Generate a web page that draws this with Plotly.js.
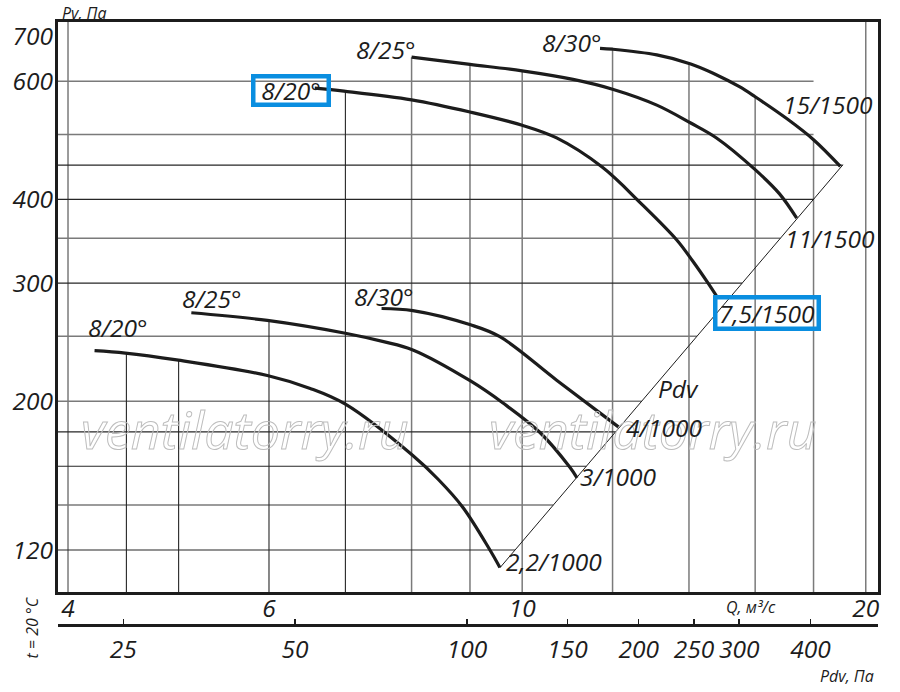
<!DOCTYPE html>
<html><head><meta charset="utf-8">
<script src="https://cdn.plot.ly/plotly-3.0.1.min.js"></script>
<style>html,body{margin:0;padding:0;background:#fff}#chart{width:900px;height:692px}</style>
</head><body><div id="chart"></div>
<script>
// ---- data (Q in m3/s, Pv in Pa) ----
const Q_20_1500 = [6.58, 6.98, 8.0, 9.0, 10.0, 10.72, 11.75, 12.7, 13.66, 14.1, 14.57, 14.84];
const PV_20_1500 = [586, 580, 563, 540, 516, 494, 447, 395, 348, 324, 299, 285];
const Q_25_1500 = [8.0, 9.0, 10.0, 11.08, 12.0, 13.12, 14.05, 14.8, 16.0, 16.8, 17.4];
const PV_25_1500 = [652, 636, 622, 604, 584, 553, 520, 494, 443, 408, 375];
const Q_30_1500 = [11.7, 12.0, 13.12, 14.05, 14.7, 15.5, 16.0, 17.05, 18.0, 19.0];
const PV_30_1500 = [672, 670, 657, 637, 617, 589, 569, 528, 491, 448];
const Q_20_1000 = [4.22, 4.49, 4.98, 5.98, 6.52, 7.0, 8.02, 8.44, 8.87, 9.37, 9.56];
const PV_20_1000 = [238, 236, 230.5, 218.5, 209, 198, 166, 153, 139, 120, 113];
const Q_25_1000 = [5.13, 5.98, 7.0, 7.56, 8.02, 9.01, 9.62, 10.36, 11.01, 11.17];
const PV_25_1000 = [271, 264, 252.6, 245.4, 238.5, 214.4, 198.8, 179.8, 159.4, 153.7];
const Q_30_1000 = [7.53, 8.02, 9.01, 9.56, 10.72, 12.15];
const PV_30_1000 = [275, 273, 260, 249.6, 215, 183];

const startLabels = ['8/20°', '8/25°', '8/30°', '8/20°', '8/25°', '8/30°'];
const endLabels = ['7,5/1500', '11/1500', '15/1500', '2,2/1000', '3/1000', '4/1000'];

const qTicks = [4, 6, 10, 20];
const pvTicks = [120, 200, 300, 400, 600, 700];
const pdvTicks = [25, 50, 100, 150, 200, 250, 300, 400];
const qGrid = [4, 4.5, 5, 6, 7, 8, 9, 10, 12, 14, 16, 18, 20];
const pvGrid = [120, 140, 160, 180, 200, 250, 300, 350, 400, 450, 500, 600];
const qGridDark = [4.5, 5, 6, 7];
const pvGridDark = [120, 160, 180, 300, 400, 450];

const pdvLineCoef = 1.235;     // Pdv = k*Q^2 (line on chart)
const pdvAxisCoef = 1.25;      // Pdv scale under the chart
const pdvLineQ = [9.56, 19.1];
const pdvLabelQ = 13;
const qRange = [3.92, 20.5];
const pvRange = [103.7, 735.6];

// ---- helpers ----
const L = Math.log10;
const curves = [
  {q: Q_20_1500, p: PV_20_1500}, {q: Q_25_1500, p: PV_25_1500}, {q: Q_30_1500, p: PV_30_1500},
  {q: Q_20_1000, p: PV_20_1000}, {q: Q_25_1000, p: PV_25_1000}, {q: Q_30_1000, p: PV_30_1000}
];
function interp(c, q) {
  if (q < c.q[0] || q > c.q[c.q.length - 1]) return null;
  for (let i = 0; i < c.q.length - 1; i++) {
    if (q >= c.q[i] && q <= c.q[i + 1]) {
      const t = (L(q) - L(c.q[i])) / (L(c.q[i + 1]) - L(c.q[i]));
      return Math.pow(10, L(c.p[i]) + t * (L(c.p[i + 1]) - L(c.p[i])));
    }
  }
  return null;
}

// gridlines clipped to the curve envelope and the Pdv line
const gDark = {x: [], y: []}, gLight = {x: [], y: []};
qGrid.forEach(q => {
  let top = null;
  curves.forEach(c => { const v = interp(c, q); if (v !== null && (top === null || v > top)) top = v; });
  const g = qGridDark.includes(q) ? gDark : gLight;
  g.x.push(q, q, null); g.y.push(pvRange[0], top === null ? pvRange[1] : top, null);
});
const pLo = pdvLineCoef * pdvLineQ[0] ** 2, pHi = pdvLineCoef * pdvLineQ[1] ** 2;
pvGrid.forEach(p => {
  const xe = (p >= pLo && p <= pHi) ? Math.sqrt(p / pdvLineCoef) : qGrid[qGrid.length - 2];
  const g = pvGridDark.includes(p) ? gDark : gLight;
  g.x.push(qRange[0], xe, null); g.y.push(p, p, null);
});

const ink = '#1c1c1c';
const FF = '"Open Sans", "Noto Sans", "DejaVu Sans", sans-serif';
const traces = [
  {x: gLight.x, y: gLight.y, mode: 'lines', line: {color: '#7a7a7a', width: 1.5}, hoverinfo: 'skip'},
  {x: gDark.x, y: gDark.y, mode: 'lines', line: {color: '#262626', width: 1.1}, hoverinfo: 'skip'},
  {x: pdvLineQ, y: pdvLineQ.map(q => pdvLineCoef * q * q), mode: 'lines', line: {color: ink, width: 1}, hoverinfo: 'skip'}
];
curves.forEach(c => traces.push({x: c.q, y: c.p, mode: 'lines', line: {color: ink, width: 3.2, shape: 'spline', smoothing: 1}, hoverinfo: 'skip'}));
traces.push({x: pdvTicks, y: pdvTicks.map(() => pvRange[0]), xaxis: 'x2', yaxis: 'y', mode: 'markers', marker: {size: 1, opacity: 0}, hoverinfo: 'skip'});

// ---- labels ----
const BIG = 24.5;
const labFont = {family: FF, size: BIG, color: ink, style: 'italic'};
const blue = '#0a8ee0';
// [dx, dy] screen offsets of label centres from curve start / end
const startOff = [[-24, 2], [-26, -8], [-28, -6], [23, -23.5], [21, -14], [2, -12]];
const endOff = [[49.5, 15], [33, 20], [-12, -62], [54, -6], [41, -1], [46, 0]];
const startBox = [{width: 71, height: 24}, null, null, null, null, null];
const endBox = [{width: 99, height: 27}, null, null, null, null, null];

function lab(text, q, p, off, box) {
  const a = {xref: 'x', yref: 'y', x: L(q), y: L(p), text, showarrow: false, xanchor: 'center', yanchor: 'middle',
    xshift: off[0], yshift: -off[1], font: labFont};
  if (box) Object.assign(a, box, {bordercolor: blue, borderwidth: 4.5, borderpad: 0, align: 'center', valign: 'middle'});
  return a;
}
const wmFont = {family: FF, size: 52, color: '#c4c4c4', style: 'italic'};
const annotations = [
  {xref: 'paper', yref: 'paper', x: 0.228, y: 0.3264, xanchor: 'center', yanchor: 'middle', text: 'ventilatorry.ru', showarrow: false, font: wmFont},
  {xref: 'paper', yref: 'paper', x: 0.7256, y: 0.3264, xanchor: 'center', yanchor: 'middle', text: 'ventilatorry.ru', showarrow: false, font: wmFont}
];
curves.forEach((c, i) => {
  annotations.push(lab(startLabels[i], c.q[0], c.p[0], startOff[i], startBox[i]));
  annotations.push(lab(endLabels[i], c.q[c.q.length - 1], c.p[c.p.length - 1], endOff[i], endBox[i]));
});
annotations.push({xref: 'x', yref: 'y', x: L(pdvLabelQ), y: L(pdvLineCoef * pdvLabelQ ** 2), text: 'Pdv', showarrow: false,
  xanchor: 'center', yanchor: 'middle', xshift: 26, font: labFont});
const smallFont = {family: FF, size: 16, color: ink, style: 'italic'};
annotations.push({xref: 'paper', yref: 'paper', x: 0.003, y: 1, yanchor: 'middle', xanchor: 'left', yshift: 9.5,
  text: 'Pv, Па', showarrow: false, font: smallFont});
annotations.push({xref: 'paper', yref: 'paper', x: 0.845, y: 0.0294, xanchor: 'center', yanchor: 'middle', text: 'Q, м³/с', showarrow: false,
  font: smallFont});
annotations.push({xref: 'paper', yref: 'paper', x: 0.962, y: -0.084, xanchor: 'center', yanchor: 'middle', text: 'Pdv, Па', showarrow: false, font: smallFont});
annotations.push({xref: 'paper', yref: 'paper', x: -0.0311, y: -0.0035, xanchor: 'center', yanchor: 'middle', text: 't = 20 °C', textangle: -90,
  showarrow: false, font: smallFont});

const tickFont = {family: FF, size: BIG, color: ink, style: 'italic'};
const layout = {
  width: 900, height: 692,
  margin: {l: 58, r: 22, t: 22, b: 67},
  paper_bgcolor: '#fff', plot_bgcolor: '#fff',
  showlegend: false, hovermode: false,
  xaxis: {type: 'log', range: [L(qRange[0]), L(qRange[1])], tickvals: qTicks, ticktext: qTicks.map(String),
    showgrid: false, zeroline: false, showline: true, mirror: true, linewidth: 3, linecolor: ink, ticks: '',
    tickfont: tickFont, anchor: 'y', ticklabelstandoff: -8},
  xaxis2: {type: 'log', overlaying: 'x', anchor: 'free', position: 0, side: 'bottom',
    range: [2 * L(qRange[0]) + L(pdvAxisCoef), 2 * L(qRange[1]) + L(pdvAxisCoef)],
    tickvals: pdvTicks, ticktext: pdvTicks.map(String), showgrid: false, zeroline: false,
    showline: true, linewidth: 2.5, linecolor: ink, ticks: 'inside', ticklen: 5, tickwidth: 1.5, tickcolor: ink,
    tickfont: tickFont, ticklabelstandoff: 2},
  yaxis: {type: 'log', domain: [0.0539, 1], range: [L(pvRange[0]), L(pvRange[1])], tickvals: pvTicks,
    ticktext: pvTicks.map(String), showgrid: false, zeroline: false, showline: true, mirror: true, linewidth: 3,
    linecolor: ink, ticks: '', tickfont: tickFont, ticklabelstandoff: -3},
  annotations
};

Plotly.newPlot('chart', traces, layout, {staticPlot: true}).then(gd => {
  gd.querySelectorAll('.annotation').forEach(g => {
    const idx = g.getAttribute('data-index');
    if (idx === '0' || idx === '1') {
      g.querySelectorAll('text').forEach(t => { t.style.fill = 'none'; t.style.stroke = '#bdbdbd'; t.style.strokeWidth = '1px'; });
    }
  });
});
</script>
</body></html>
